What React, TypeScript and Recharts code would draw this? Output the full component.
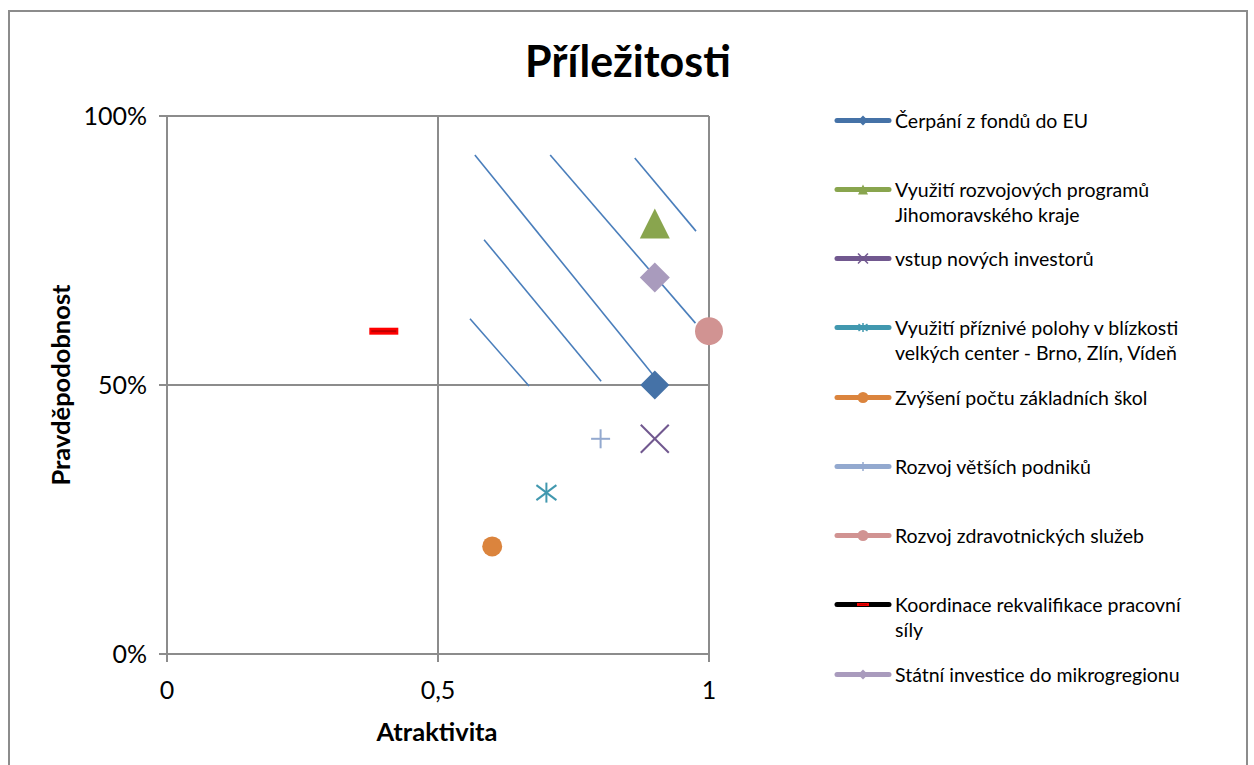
import React from 'react';
import { ScatterChart, Scatter, XAxis, YAxis, CartesianGrid } from 'recharts';

// ---- data ----
const seriesNames = [
  'Čerpání z fondů do EU',
  'Využití rozvojových programů Jihomoravského kraje',
  'vstup nových investorů',
  'Využití příznivé polohy v blízkosti velkých center - Brno, Zlín, Vídeň',
  'Zvýšení počtu základních škol',
  'Rozvoj větších podniků',
  'Rozvoj zdravotnických služeb',
  'Koordinace rekvalifikace pracovní síly',
  'Státní investice do mikrogregionu',
];
const atraktivita = [0.9, 0.9, 0.9, 0.7, 0.6, 0.8, 1.0, 0.4, 0.9];
const pravdepodobnost = [0.5, 0.8, 0.4, 0.3, 0.2, 0.4, 0.6, 0.6, 0.7];

const xTicks = [0, 0.5, 1];
const yTicks = [0, 0.5, 1];

// hatch line segments (data coordinates)
const hatchStartX = [0.568, 0.707, 0.863, 0.585, 0.559];
const hatchStartY = [0.9275, 0.9275, 0.922, 0.77, 0.623];
const hatchEndX = [0.9, 0.975, 0.976, 0.801, 0.668];
const hatchEndY = [0.515, 0.615, 0.786, 0.507, 0.498];

const title = 'Příležitosti';
const xTitle = 'Atraktivita';
const yTitle = 'Pravděpodobnost';

// ---- styles ----
const seriesColors = ['#4572A7', '#89A54E', '#71588F', '#4198AF', '#DB843D', '#93A9CF', '#D19392', '#FF0000', '#A99BBD'];
const legendLineColors = ['#4572A7', '#89A54E', '#71588F', '#4198AF', '#DB843D', '#93A9CF', '#D19392', '#000000', '#A99BBD'];
const seriesShapes = ['diamond', 'triangle', 'x', 'star', 'circle', 'plus', 'circle', 'dash', 'diamond'];
const markerSizes = [29, 30, 28, 20, 20, 19, 28, 29, 30];
const legendMarkerSizes = [10, 10, 10, 9, 11, 9, 11, 12, 10];

const FONT = 'Lato, "Open Sans", sans-serif';
const GRID = '#8c8c8c';

function drawMarker(shape: string, color: string, cx: number, cy: number, s: number, sw = 2) {
  const h = s / 2;
  switch (shape) {
    case 'diamond':
      return <polygon points={`${cx},${cy - h} ${cx + h},${cy} ${cx},${cy + h} ${cx - h},${cy}`} fill={color} />;
    case 'triangle':
      return <polygon points={`${cx},${cy - h} ${cx + h},${cy + h} ${cx - h},${cy + h}`} fill={color} />;
    case 'x':
      return (
        <g stroke={color} strokeWidth={sw}>
          <line x1={cx - h} y1={cy - h} x2={cx + h} y2={cy + h} />
          <line x1={cx - h} y1={cy + h} x2={cx + h} y2={cy - h} />
        </g>
      );
    case 'star':
      return (
        <g stroke={color} strokeWidth={sw}>
          <line x1={cx - h} y1={cy - h * 0.75} x2={cx + h} y2={cy + h * 0.75} />
          <line x1={cx - h} y1={cy + h * 0.75} x2={cx + h} y2={cy - h * 0.75} />
          <line x1={cx} y1={cy - h} x2={cx} y2={cy + h} />
        </g>
      );
    case 'circle':
      return <circle cx={cx} cy={cy} r={h} fill={color} />;
    case 'plus':
      return (
        <g stroke={color} strokeWidth={sw}>
          <line x1={cx - h} y1={cy} x2={cx + h} y2={cy} />
          <line x1={cx} y1={cy - h} x2={cx} y2={cy + h} />
        </g>
      );
    case 'dash':
      return (
        <g>
          <rect x={cx - h} y={cy - s * 0.12} width={s} height={s * 0.24} fill={color} />
          <line x1={cx - h + 2} y1={cy} x2={cx + h - 2} y2={cy} stroke="#C00000" strokeWidth={Math.max(1, s * 0.07)} />
        </g>
      );
    default:
      return <g />;
  }
}

const Legend = () => (
  <div style={{ position: 'absolute', left: 823, top: 95.5, fontFamily: FONT, fontSize: 19.5, lineHeight: '25px', color: '#000' }}>
    {seriesNames.map((name, i) => (
      <div key={name} style={{ position: 'absolute', top: i * 69.25, left: 0, display: 'flex', alignItems: 'flex-start' }}>
        <svg width={62} height={25} style={{ flex: 'none' }}>
          <line x1={4} y1={12.5} x2={56} y2={12.5} stroke={legendLineColors[i]} strokeWidth={5} strokeLinecap="round" />
          {drawMarker(seriesShapes[i], seriesColors[i], 30, 12.5, legendMarkerSizes[i], 1.5)}
        </svg>
        <div style={{ width: 300 }}>{name}</div>
      </div>
    ))}
  </div>
);

export default function App() {
  const hatch = hatchStartX.map((_, i) => [
    { x: hatchStartX[i], y: hatchStartY[i] },
    { x: hatchEndX[i], y: hatchEndY[i] },
  ]);
  return (
    <div style={{ position: 'absolute', left: 8, top: 10, width: 1236, height: 780, border: `2px solid ${GRID}`, background: '#fff', fontFamily: FONT }}>
      <ScatterChart width={1236} height={780} margin={{ top: 104, right: 537, left: 57, bottom: 88 }}>
        <CartesianGrid stroke={GRID} strokeWidth={2} />
        <XAxis
          type="number"
          dataKey="x"
          domain={[0, 1]}
          ticks={xTicks}
          interval={0}
          height={50}
          tickFormatter={(v: number) => String(v).replace('.', ',')}
          tick={{ fill: '#000', fontSize: 25, fontFamily: FONT }}
          axisLine={{ stroke: GRID, strokeWidth: 2 }}
          tickLine={{ stroke: GRID, strokeWidth: 2 }}
          tickSize={8}
          tickMargin={19}
        />
        <YAxis
          type="number"
          dataKey="y"
          domain={[0, 1]}
          ticks={yTicks}
          interval={0}
          width={100}
          tickFormatter={(v: number) => `${Math.round(v * 100)}%`}
          tick={{ fill: '#000', fontSize: 25, fontFamily: FONT }}
          axisLine={{ stroke: GRID, strokeWidth: 2 }}
          tickLine={{ stroke: GRID, strokeWidth: 2 }}
          tickSize={8}
          tickMargin={12}
        />
        {hatch.map((seg, i) => (
          <Scatter
            key={`h${i}`}
            data={seg}
            line={{ stroke: '#4A7EBB', strokeWidth: 1.6 }}
            shape={() => <g />}
            legendType="none"
            isAnimationActive={false}
          />
        ))}
        {seriesNames.map((name, i) => (
          <Scatter
            key={name}
            name={name}
            data={[{ x: atraktivita[i], y: pravdepodobnost[i] }]}
            fill={seriesColors[i]}
            isAnimationActive={false}
            shape={(p: any) => drawMarker(seriesShapes[i], seriesColors[i], p.cx, p.cy, markerSizes[i])}
          />
        ))}
      </ScatterChart>
      <div style={{ position: 'absolute', left: 0, top: 27, width: 1236, textAlign: 'center', fontSize: 43, lineHeight: '43px', fontWeight: 700 }}>{title}</div>
      <div style={{ position: 'absolute', left: 50, top: 373, transform: 'translate(-50%, -50%) rotate(-90deg)', whiteSpace: 'nowrap', fontSize: 25.5, fontWeight: 700 }}>{yTitle}</div>
      <div style={{ position: 'absolute', left: 427, top: 719, transform: 'translate(-50%, -50%)', whiteSpace: 'nowrap', fontSize: 25.5, fontWeight: 700 }}>{xTitle}</div>
      <Legend />
    </div>
  );
}
